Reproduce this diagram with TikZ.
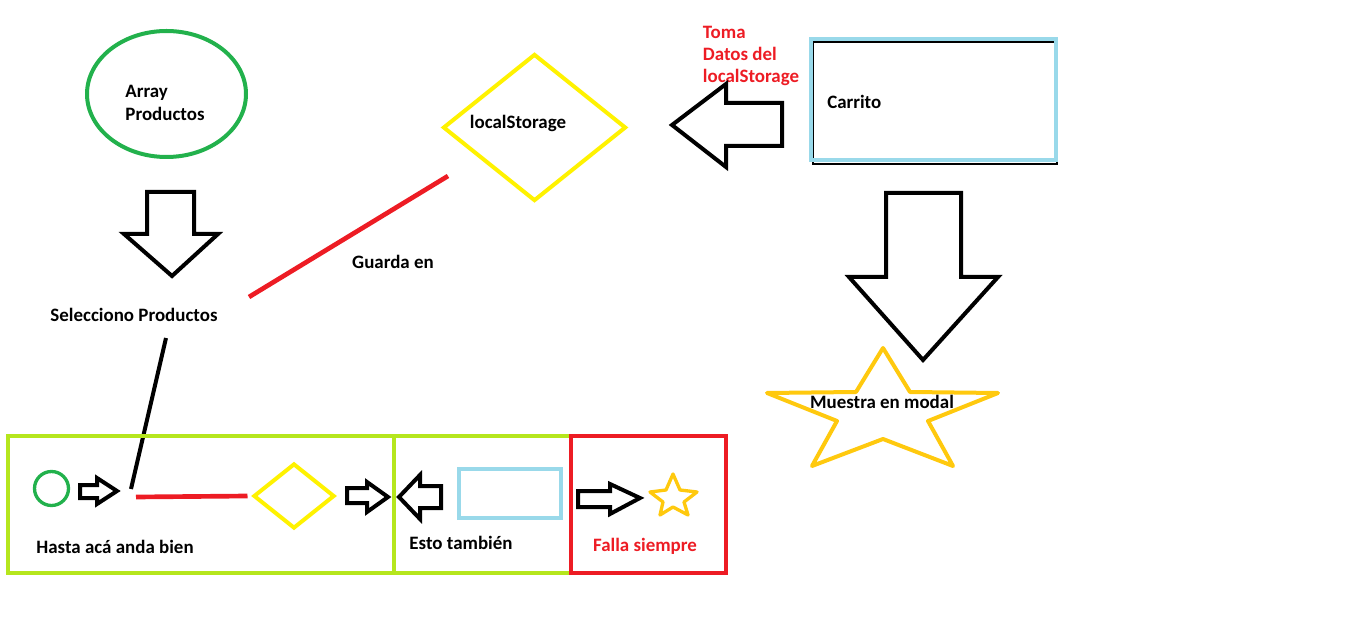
\documentclass[tikz,border=0pt]{standalone}
\usepackage{fontspec}
\setmainfont{Carlito}
\usetikzlibrary{shapes.geometric}
\definecolor{paintGreen}{HTML}{22B14C}
\definecolor{paintYellow}{HTML}{FFF200}
\definecolor{paintRed}{HTML}{ED1C24}
\definecolor{paintBlue}{HTML}{99D9EA}
\definecolor{paintLime}{HTML}{B5E61D}
\definecolor{paintGold}{HTML}{FFC90E}

\begin{document}
\begin{tikzpicture}[x=0.75pt,y=-0.75pt,
		txt/.style={font=\bfseries\fontsize{14.2}{16.8}\selectfont,inner sep=0pt},
		redtxt/.style={txt,text=paintRed},
		fatarrow/.style={draw=black,line width=3pt},
		thick stroke/.style={line width=3pt},
		starline/.style={color=paintGold,line join=round}]
		\useasboundingbox (0,0) rectangle (1360,623);
		% top row shapes
		\node [ellipse,draw=paintGreen,thick stroke,minimum width=159*0.75pt,minimum height=126*0.75pt,inner sep=0pt] (arrayOval) at (166.5,94) {};
		\node [txt,align=left] (arrayTxt) at (165,103) {Array\\Productos};
		\node [diamond,draw=paintYellow,thick stroke,minimum width=183*0.75pt,minimum height=147*0.75pt,inner sep=0pt] (storeDiamond) at (534.5,127.5) {};
		\node [txt] (storeTxt) at (518,123) {localStorage};
		\draw [color=black,line width=1.2pt] (813,42) rectangle (1057,164);
		\draw [color=paintBlue,thick stroke] (811,39) rectangle (1056,160);
		\node [txt,anchor=west] (carritoTxt) at (827,102) {Carrito};
		\node [redtxt,align=left] (tomaTxt) at (751,56) {Toma\\Datos del\\localStorage};
		% block arrows
		\draw [fatarrow] (147,192) -- (194,192) -- (194,234) -- (218,234) -- (172,276) -- (124,234) -- (147,234) -- cycle;
		\draw [fatarrow] (782,103) -- (726,103) -- (726,84) -- (672,125) -- (726,167) -- (726,146) -- (782,146) -- cycle;
		\draw [fatarrow] (886,193) -- (961,193) -- (961,277) -- (998,277) -- (923,360) -- (849,277) -- (886,277) -- cycle;
		% star
		\draw [starline,thick stroke] (883,348) -- (910,392) -- (998,393) -- (928,421) -- (953,466) -- (883,439) -- (812,466) -- (837,421) -- (767,393) -- (856,392) -- cycle;
		\node [txt] (modalTxt) at (882,402) {Muestra en modal};
		% middle labels and lines
		\node [txt] (selTxt) at (134,315) {Selecciono Productos};
		\node [txt] (guardaTxt) at (393,262) {Guarda en};
		\coordinate (guardaLow) at (249,297);
		\coordinate (guardaHigh) at (448,176);
		\draw [color=paintRed,line width=3.5pt] (guardaLow) -- (guardaHigh);
		\coordinate (selLow) at (166,338);
		\coordinate (rowHit) at (131,489);
		\draw [color=black,thick stroke] (selLow) -- (rowHit);
		% bottom frames
		\draw [color=paintLime,thick stroke] (8,436) rectangle (394,573);
		\draw [color=paintLime,thick stroke] (394,436) rectangle (571,573);
		\draw [color=paintRed,thick stroke] (571,436) rectangle (726,573);
		% bottom row
		\node [circle,draw=paintGreen,line width=2.5pt,minimum size=34*0.75pt,inner sep=0pt] (miniOval) at (51.5,488.5) {};
		\draw [fatarrow] (80,485) -- (97,485) -- (97,478) -- (117,491) -- (97,504) -- (97,498) -- (80,498) -- cycle;
		\node [diamond,draw=paintYellow,thick stroke,minimum width=81*0.75pt,minimum height=65*0.75pt,inner sep=0pt] (miniDiamond) at (294,496) {};
		\coordinate (redStart) at (136,497);
		\draw [color=paintRed,line width=3.5pt] (redStart) -- ([xshift=-4*0.75pt]miniDiamond.west);
		\draw [fatarrow] (347,488) -- (367,488) -- (367,482) -- (388,497) -- (367,512) -- (367,503) -- (347,503) -- cycle;
		\draw [fatarrow] (441,486) -- (420,486) -- (420,475) -- (399,497) -- (420,519) -- (420,508) -- (441,508) -- cycle;
		\node [rectangle,draw=paintBlue,thick stroke,minimum width=102*0.75pt,minimum height=49*0.75pt,inner sep=0pt] (miniBox) at (510,493.5) {};
		\draw [fatarrow] (578,491) -- (610,491) -- (610,484) -- (640,498) -- (610,514) -- (610,507) -- (578,507) -- cycle;
		\draw [starline,line width=2.5pt] (673,474) -- (680,490) -- (697,492) -- (684,502) -- (688,515) -- (673,507) -- (660,515) -- (663,502) -- (650,492) -- (666,490) -- cycle;
		\node [txt] (hastaTxt) at (115,547) {Hasta acá anda bien};
		\node [txt] (estoTxt) at (461,543) {Esto también};
		\node [redtxt] (fallaTxt) at (645,546) {Falla siempre};
	\end{tikzpicture}
\end{document}
